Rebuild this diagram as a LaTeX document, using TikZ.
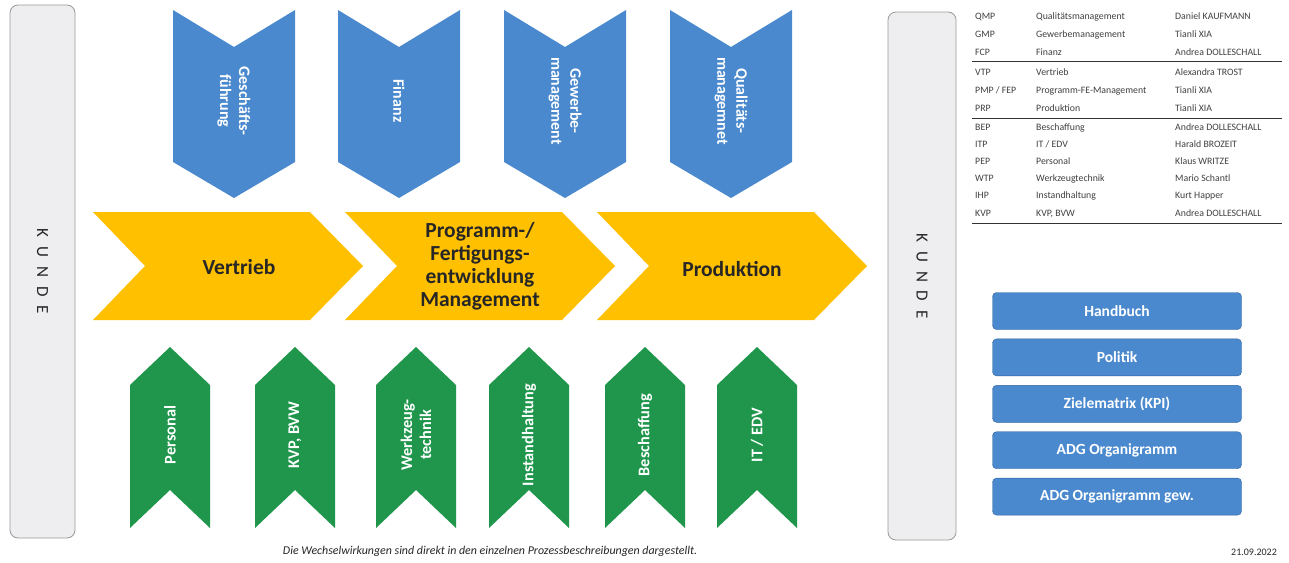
\documentclass[tikz,border=0pt]{standalone}
\usepackage{fontspec}
\setmainfont{Carlito}
\usetikzlibrary{positioning}

\definecolor{mgmtblue}{RGB}{74,137,206}
\definecolor{btnborder}{RGB}{50,100,158}
\definecolor{coreyellow}{RGB}{255,192,0}
\definecolor{suppgreen}{RGB}{31,150,76}
\definecolor{darktext}{RGB}{38,38,38}
\definecolor{barfill}{RGB}{238,238,240}

\newcommand{\kundetext}{K\hspace{9pt}U\hspace{9pt}N\hspace{9pt}D\hspace{9pt}E}

\tikzset{
  mgmt/.style={fill=mgmtblue},
  core/.style={fill=coreyellow},
  supp/.style={fill=suppgreen},
  mgmtlabel/.style={text=white, align=center, rotate=-90, font=\bfseries\fontsize{16}{19}\selectfont},
  supplabel/.style={text=white, align=center, rotate=90, font=\bfseries\fontsize{16.3}{19}\selectfont},
  corelabel/.style={text=darktext, align=center, font=\bfseries\fontsize{21.5}{23}\selectfont},
  kundebar/.style={draw=gray!80, line width=0.8pt, rounded corners=8pt, fill=barfill, rotate=-90,
    text=black!85, font=\fontsize{17}{19}\selectfont},
  docbtn/.style={draw=btnborder, fill=mgmtblue, rounded corners=4pt, minimum width=249pt, minimum height=37pt,
    text=white, font=\bfseries\fontsize{15.5}{17}\selectfont},
  tabtext/.style={anchor=base west, inner sep=0pt, text=black!75, font=\fontsize{9.8}{11}\selectfont},
  tabrule/.style={draw=black!80, line width=0.8pt},
}

\begin{document}
\begin{tikzpicture}[x=1pt, y=-1pt]
    \fill[white] (0,0) rectangle (1289,562);
    \useasboundingbox (0,0) rectangle (1289,562);

    \node[kundebar, minimum width=533, minimum height=65] (kundeL) at (42.5,271.5) {\kundetext};
    \node[kundebar, minimum width=528, minimum height=68] (kundeR) at (922,276) {\kundetext};

    \foreach \cx/\name/\txt in {234/gf/{Geschäfts-\\führung}, 399/fin/Finanz,
        565/gew/{Gewerbe-\\management}, 731/qm/{Qualitäts-\\managemnet}} {
      \fill[mgmt] (\cx-61,10) -- (\cx,47) -- (\cx+61,10) -- (\cx+61,162) -- (\cx,198) -- (\cx-61,162) -- cycle;
      \node[mgmtlabel] (\name) at (\cx,101) {\txt};
    }

    \foreach \lx in {93,345,597} {
      \fill[core] (\lx,212) -- (\lx+217,212) -- (\lx+270,266) -- (\lx+217,320) -- (\lx,320) -- (\lx+52,266) -- cycle;
    }
    \node[corelabel] (vertrieb) at (239,267) {Vertrieb};
    \node[corelabel] (pfe) at (480,266) {Programm-/\\Fertigungs-\\entwicklung\\Management};
    \node[corelabel] (produktion) at (732,269) {Produktion};

    \foreach \cx/\name/\txt in {170/pe/Personal, 295/kvp/{KVP, BVW}, 416/wt/{Werkzeug-\\technik},
        529/ih/Instandhaltung, 645/be/Beschaffung, 757/it/{IT / EDV}} {
      \fill[supp] (\cx-40,385) -- (\cx,347) -- (\cx+40,385) -- (\cx+40,528) -- (\cx,490) -- (\cx-40,528) -- cycle;
      \node[supplabel] (\name) at (\cx,435) {\txt};
    }

    \foreach \y/\code/\area/\owner [count=\i] in {
        19/QMP/Qualitätsmanagement/Daniel KAUFMANN,
        37/GMP/Gewerbemanagement/Tianli XIA,
        55/FCP/Finanz/Andrea DOLLESCHALL,
        75/VTP/Vertrieb/Alexandra TROST,
        93/{PMP / FEP}/Programm-FE-Management/Tianli XIA,
        111/PRP/Produktion/Tianli XIA,
        130/BEP/Beschaffung/Andrea DOLLESCHALL,
        147/ITP/{IT / EDV}/Harald BROZEIT,
        164/PEP/Personal/Klaus WRITZE,
        181/WTP/Werkzeugtechnik/Mario Schantl,
        198/IHP/Instandhaltung/Kurt Happer,
        216/KVP/{KVP, BVW}/Andrea DOLLESCHALL} {
      \node[tabtext] (code-\i) at (975,\y) {\code};
      \node[tabtext] (area-\i) at (1036,\y) {\area};
      \node[tabtext] (owner-\i) at (1175,\y) {\owner};
    }
    \draw[tabrule] (972,61) -- (1282,61);
    \draw[tabrule] (972,118) -- (1282,118);
    \draw[tabrule] (972,223) -- (1282,223);

    \node[docbtn] (handbuch) at (1117,311) {Handbuch};
    \node[docbtn, below=9pt of handbuch] (politik) {Politik};
    \node[docbtn, below=9pt of politik] (kpi) {Zielematrix (KPI)};
    \node[docbtn, below=9pt of kpi] (organigramm) {ADG Organigramm};
    \node[docbtn, below=9pt of organigramm] (organigrammgew) {ADG Organigramm gew.};

    \node[text=black!85, font=\itshape\fontsize{11.9}{13}\selectfont] (hinweis) at (490,551)
      {Die Wechselwirkungen sind direkt in den einzelnen Prozessbeschreibungen dargestellt.};
    \node[text=black!85, font=\fontsize{10}{12}\selectfont] (datum) at (1254,552) {21.09.2022};
\end{tikzpicture}
\end{document}
